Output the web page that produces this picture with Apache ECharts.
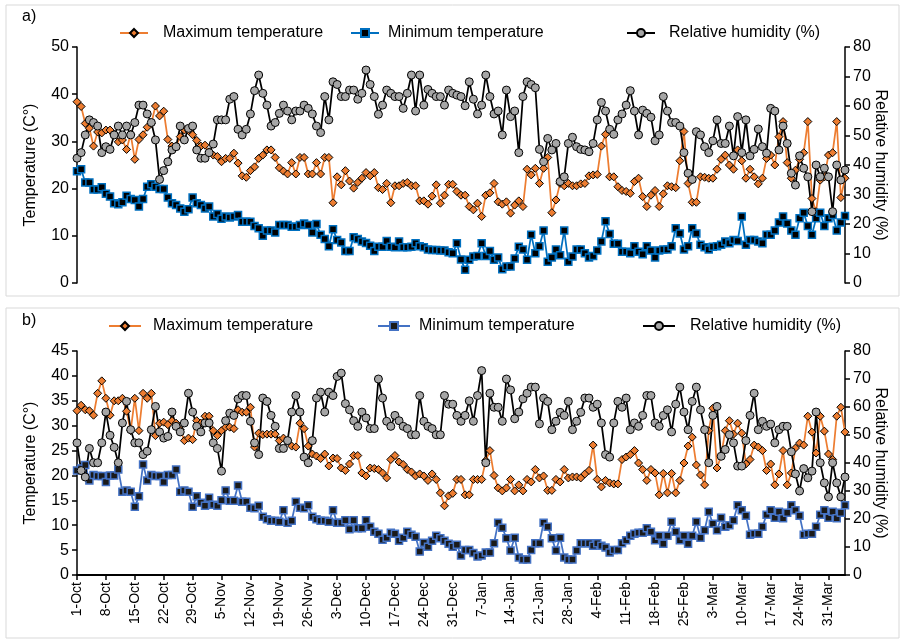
<!DOCTYPE html>
<html><head><meta charset="utf-8">
<script src="https://cdn.jsdelivr.net/npm/echarts@6/dist/echarts.min.js"></script>
<style>
html,body{margin:0;padding:0;background:#fff;}
#a{position:absolute;left:0;top:0;width:904px;height:302px;}
#b{position:absolute;left:0;top:302px;width:904px;height:339px;}
</style>
</head><body><div id="a"></div><div id="b"></div>
<script>
// Tick labels (one every 7 days, starting 1-Oct)
const tickLabels = ['1-Oct','8-Oct','15-Oct','22-Oct','29-Oct','5-Nov','12-Nov','19-Nov','26-Nov','3-Dec','10-Dec','17-Dec','24-Dec','31-Dec','7-Jan','14-Jan','21-Jan','28-Jan','4-Feb','11-Feb','18-Feb','25-Feb','3-Mar','10-Mar','17-Mar','24-Mar','31-Mar'];

// Panel a
const maxA = [38.4,37.4,33.8,32.8,29.0,32.0,31.8,32.4,32.4,31.5,29.9,30.3,28.3,31.5,26.2,30.4,31.4,33.0,33.8,37.5,35.4,36.4,30.4,29.0,29.0,31.0,32.4,32.3,31.4,30.2,29.0,29.2,27.8,27.1,26.8,25.7,26.4,26.4,27.5,25.4,22.7,22.4,23.8,24.6,26.4,27.1,28.2,
28.2,26.6,24.4,23.7,23.1,25.5,23.1,26.6,26.6,23.1,23.1,25.5,23.1,26.6,26.6,17.0,22.5,20.8,23.8,21.6,20.1,21.3,22.2,23.4,22.7,23.4,20.2,19.8,21.1,17.0,20.6,20.6,21.1,21.3,20.6,20.6,17.4,17.4,16.7,18.4,20.8,16.9,18.6,20.9,20.9,19.4,
18.6,18.6,16.2,15.5,16.9,14.1,18.6,19.1,21.1,17.2,16.7,17.2,14.8,16.5,17.4,16.2,24.1,22.9,24.3,21.1,24.3,26.6,14.9,17.6,21.1,20.6,21.1,20.6,20.6,21.0,21.1,22.7,22.9,23.0,29.0,31.5,22.5,22.5,20.4,19.6,19.4,19.0,21.5,22.2,
18.3,16.2,18.6,19.6,16.2,18.9,20.6,20.4,20.2,25.9,32.1,21.1,17.1,17.1,22.5,22.4,22.2,22.2,24.1,26.2,27.1,25.0,24.1,28.2,25.9,22.2,24.1,22.5,21.0,22.2,26.4,27.1,25.0,31.0,34.2,25.5,22.2,23.9,26.2,27.6,34.2,17.9,15.1,21.8,22.5,27.1,27.6,34.2,18.1,22.2];
const minA = [23.7,24.1,21.3,21.3,19.8,19.8,20.3,18.9,18.3,16.9,16.7,17.1,18.5,17.8,17.6,16.2,17.8,20.4,20.9,20.4,19.9,19.9,18.1,16.9,16.5,15.8,15.1,15.6,18.1,16.9,16.5,15.8,16.2,14.1,14.6,13.6,14.1,13.9,14.1,14.4,13.0,13.0,13.0,12.1,11.6,10.0,11.1,
11.1,10.7,12.3,12.3,12.3,11.9,11.9,12.3,12.6,12.3,10.7,12.5,10.2,9.3,7.8,11.4,9.1,8.6,6.8,6.8,9.7,9.3,8.8,8.5,7.9,6.8,7.7,7.7,8.9,7.7,7.6,8.8,7.6,7.6,7.7,8.4,7.8,7.6,7.1,7.0,7.0,6.9,6.9,6.5,6.3,8.4,
5.0,2.8,4.9,5.6,5.7,8.4,5.7,6.8,4.9,5.4,2.9,3.5,3.5,5.2,7.7,7.1,4.9,10.2,6.3,7.8,11.1,4.5,5.4,7.1,5.9,11.1,4.5,5.6,7.1,7.1,6.3,5.4,5.7,6.9,8.8,13.1,10.4,8.3,8.3,6.6,6.6,6.3,7.8,6.6,
6.1,7.8,6.9,5.4,6.9,7.1,7.1,7.8,11.6,10.5,7.1,7.8,11.6,10.5,8.1,7.6,7.1,7.7,7.8,8.1,8.8,8.4,9.1,8.9,14.1,8.1,9.1,9.1,8.8,8.4,10.2,10.2,11.1,12.8,14.1,12.6,11.1,10.2,13.7,14.9,12.1,10.2,13.7,14.9,12.1,13.7,14.4,11.1,12.8,14.2];
const rhA = [42.3,44.2,50.2,55.3,54.4,53.2,44.2,46.2,45.3,50.2,53.2,50.2,53.2,50.2,54.4,60.3,60.3,57.3,54.4,48.5,35.1,38.1,41.1,45.1,46.2,53.2,48.5,52.4,53.2,45.1,42.3,42.3,44.2,47.1,55.3,55.3,55.3,62.3,63.2,52.1,50.2,52.1,57.3,65.2,70.5,64.3,60.3,
53.2,54.4,57.5,60.3,58.3,55.3,58.3,58.3,60.3,59.2,57.3,53.2,51.0,63.2,55.3,68.2,67.3,63.2,63.2,65.4,65.4,62.3,64.3,72.2,67.3,63.2,57.2,60.3,65.4,64.3,63.2,63.2,59.2,64.3,70.5,58.3,70.5,60.3,65.6,64.3,63.2,63.2,60.3,65.4,64.3,63.7,
63.2,60.1,68.2,62.3,57.3,60.3,70.5,63.2,57.3,58.3,50.2,65.4,56.4,58.3,44.2,63.2,68.2,67.3,66.2,45.3,41.1,49.0,45.1,47.3,34.4,36.0,47.3,49.4,46.2,45.3,45.1,44.5,47.3,55.3,61.2,58.3,52.1,50.4,55.3,57.3,60.3,65.2,58.3,50.2,
58.6,57.5,56.2,48.2,50.2,63.2,58.3,54.4,54.4,53.2,44.2,37.2,35.1,51.3,50.2,46.2,44.2,48.2,55.3,47.3,47.3,53.2,43.1,56.4,44.2,55.3,43.1,45.3,52.2,46.2,44.0,59.2,58.3,45.1,53.2,47.3,37.2,33.2,43.1,38.9,36.0,24.2,40.0,36.0,38.9,36.0,24.2,40.0,34.9,38.3];

// Panel b
const maxB = [33.0,34.1,33.2,33.0,32.1,36.5,39.0,35.5,32.1,35.0,35.0,35.5,32.9,29.0,35.5,29.0,36.5,35.5,36.5,28.0,30.5,30.7,30.2,31.0,30.5,29.2,27.0,27.5,27.2,31.0,30.5,31.9,31.9,29.0,28.0,29.0,29.7,29.7,29.4,33.2,32.7,32.7,33.7,25.7,
28.5,28.2,28.3,28.3,28.3,27.0,27.5,27.0,25.9,25.7,30.5,29.4,25.9,24.3,23.9,23.4,24.3,21.9,23.5,23.4,21.5,21.0,22.3,24.0,24.0,20.5,19.9,21.5,21.4,21.2,20.5,19.5,23.2,24.0,22.7,22.2,21.2,20.7,19.9,20.3,19.9,19.0,20.3,19.2,16.5,13.9,15.9,
16.4,19.2,19.2,16.1,16.1,19.2,19.2,19.2,23.0,25.0,20.0,17.5,16.9,17.5,19.2,16.9,18.1,16.9,19.2,18.7,21.2,19.5,19.9,17.0,17.0,19.2,18.7,21.2,19.5,19.7,19.7,19.5,20.3,21.0,26.1,19.2,17.7,19.0,18.5,18.3,18.3,23.2,23.7,24.2,25.0,22.5,
21.2,19.0,21.2,20.5,16.1,20.4,16.5,20.4,16.5,19.0,22.5,25.9,27.7,22.1,20.1,18.1,29.0,33.5,21.5,23.9,29.0,31.0,28.3,30.5,28.5,22.3,23.2,26.1,25.7,25.0,21.0,22.3,18.1,20.3,25.0,18.1,20.5,25.5,26.5,26.1,31.9,28.7,24.5,31.9,28.9,24.3,23.2,31.9,33.7,28.7];
const minB = [21.0,21.4,22.1,19.0,20.1,19.9,19.9,18.7,20.0,20.0,21.2,16.7,17.0,16.7,13.7,15.8,22.2,19.0,20.1,19.9,19.9,18.7,20.1,20.1,21.2,16.7,17.0,16.7,13.7,15.8,14.5,13.9,15.5,14.1,13.9,15.0,17.0,14.9,14.9,18.0,14.7,14.7,13.5,13.4,
13.9,11.7,11.2,10.9,10.9,10.7,13.0,10.5,10.9,14.7,13.5,13.4,14.0,11.7,11.2,10.9,10.9,10.7,13.0,10.5,10.5,11.0,9.2,11.0,9.4,9.4,11.0,9.7,8.7,8.3,7.1,7.5,8.5,8.3,6.9,7.5,8.7,8.1,7.7,4.7,6.5,5.7,6.9,7.9,7.4,6.9,6.3,
5.7,6.1,3.9,5.0,5.0,4.4,3.7,3.9,4.5,4.5,6.4,10.5,9.5,7.4,4.9,7.5,3.5,3.1,3.1,5.0,6.4,6.4,10.5,9.7,7.4,4.9,7.5,3.5,3.1,3.1,4.9,6.4,6.4,6.4,5.9,6.4,5.9,5.5,4.5,5.0,5.0,6.4,7.0,7.9,8.3,8.5,
8.5,9.4,8.7,7.0,7.9,6.3,7.9,10.7,8.7,7.0,7.9,6.3,7.9,10.7,7.5,9.0,12.7,10.3,9.0,11.5,9.7,10.0,11.0,14.0,13.0,11.9,8.1,8.3,8.3,9.7,12.1,13.0,11.5,12.7,11.4,12.5,14.0,13.0,11.9,8.1,8.3,8.3,9.7,12.1,13.0,11.5,12.7,11.4,12.5,14.0];
const rhB = [47.2,37.3,35.0,45.2,40.1,40.1,47.2,58.2,49.9,45.6,40.1,54.3,62.0,51.9,47.2,47.2,43.0,44.2,51.9,60.2,51.1,48.9,49.5,58.2,53.1,51.1,54.3,64.9,58.2,53.1,51.1,54.3,54.3,47.2,45.2,37.1,55.1,57.8,57.0,62.9,64.1,64.1,54.9,47.2,
43.0,63.2,62.0,57.0,53.1,45.2,45.2,48.0,58.2,64.1,58.2,42.1,40.1,48.0,63.2,65.3,58.2,65.3,64.1,70.9,72.1,61.2,59.0,55.1,53.1,58.2,56.1,52.3,52.3,70.0,63.2,54.9,53.1,57.0,55.1,53.1,52.3,50.1,50.1,64.1,54.9,53.1,52.3,50.1,50.1,64.1,61.0,
61.0,57.0,54.9,57.0,62.2,54.9,64.1,73.0,40.1,64.9,59.9,59.9,54.9,70.0,66.1,55.8,58.2,62.9,64.9,67.1,67.1,54.0,63.2,62.0,51.9,54.9,58.1,57.0,62.0,51.9,54.9,58.1,63.2,63.2,59.9,61.0,54.3,43.0,42.1,54.3,62.0,59.9,63.2,51.9,54.3,53.1,
57.0,64.1,64.1,54.3,53.1,57.0,59.0,51.1,61.0,67.1,58.2,51.9,62.0,67.1,59.0,51.9,40.1,57.0,60.2,42.4,44.8,50.1,47.2,38.9,38.9,48.0,57.0,64.9,51.9,54.9,53.1,53.9,47.2,51.9,53.1,53.1,44.0,36.1,30.0,38.0,34.7,37.1,58.2,40.1,32.9,27.9,40.1,32.9,27.9,35.0];

const categories = maxA.map((_, i) => 'd' + i);
const FONT = "'Liberation Sans', Arial, sans-serif";
const NAMES = ['Maximum temperature', 'Minimum temperature', 'Relative humidity (%)'];

function makeSeries(maxD, minD, rhD, minColor, minFill) {
  const common = { type: 'line', showAllSymbol: true, animation: false, z: 2 };
  return [
    Object.assign({}, common, { name: NAMES[0], data: maxD, yAxisIndex: 0, symbol: 'diamond', symbolSize: 8,
      lineStyle: { color: '#ED7D31', width: 1.75 }, itemStyle: { color: '#ED7D31', borderColor: '#000', borderWidth: 1 } }),
    Object.assign({}, common, { name: NAMES[1], data: minD, yAxisIndex: 0, symbol: 'rect', symbolSize: 7,
      lineStyle: { color: minColor, width: 1.75 }, itemStyle: { color: minFill, borderColor: minColor, borderWidth: 1.5 } }),
    Object.assign({}, common, { name: NAMES[2], data: rhD, yAxisIndex: 1, symbol: 'circle', symbolSize: 8,
      lineStyle: { color: '#000', width: 1.75 }, itemStyle: { color: '#A6A6A6', borderColor: '#000', borderWidth: 1 } })
  ];
}

function makeLegends(pos, top, iw) {
  return NAMES.map((n, i) => ({
    data: [n], left: pos[i][0], top: top, itemWidth: iw, itemHeight: 10, selectedMode: false,
    textStyle: { fontFamily: FONT, fontSize: 16, color: '#000', padding: [0, 0, 0, pos[i][1]] }
  }));
}

function yAxes(lmax, linterval, lname, gridIdx) {
  const lbl = { fontFamily: FONT, fontSize: 16, color: '#000' };
  return [
    { type: 'value', gridIndex: gridIdx, min: 0, max: lmax, interval: linterval, position: 'left',
      name: lname, nameLocation: 'middle', nameGap: 38, nameTextStyle: { fontFamily: FONT, fontSize: 16, color: '#000' },
      axisLine: { show: true, lineStyle: { color: '#000', width: 1.5 } },
      axisTick: { show: true, length: 5, lineStyle: { color: '#000', width: 1.5 } },
      axisLabel: Object.assign({ margin: 8 }, lbl), splitLine: { show: false } },
    { type: 'value', gridIndex: gridIdx, min: 0, max: 80, interval: 10, position: 'right',
      name: 'Relative humidity (%)', nameLocation: 'middle', nameGap: 27, nameRotate: -90, nameMoveOverlap: false,
      nameTextStyle: { fontFamily: FONT, fontSize: 16, color: '#000' },
      axisLine: { show: true, lineStyle: { color: '#000', width: 1.5 } },
      axisTick: { show: true, length: 5, lineStyle: { color: '#000', width: 1.5 } },
      axisLabel: Object.assign({ margin: 8 }, lbl), splitLine: { show: false } }
  ];
}

// Panel a
const chartA = echarts.init(document.getElementById('a'), null, { renderer: 'canvas' });
chartA.setOption({
  backgroundColor: '#fff',
  animation: false,
  grid: { left: 77, top: 47, width: 768, height: 236 },
  graphic: [
    { type: 'rect', shape: { x: 6, y: 5, width: 893, height: 291 }, style: { fill: 'none', stroke: '#d9d9d9', lineWidth: 1 }, z: -1 },
    { type: 'text', left: 22, top: 9, style: { text: 'a)', font: '16px ' + FONT, fill: '#000' } }
  ],
  legend: makeLegends([[114, 10], [345, 4], [621, 9]], 20, 28),
  xAxis: { type: 'category', data: categories, boundaryGap: false,
    axisLine: { show: false }, axisTick: { show: false }, axisLabel: { show: false }, splitLine: { show: false } },
  yAxis: yAxes(50, 10, 'Temperature (C°)', 0),
  series: makeSeries(maxA, minA, rhA, '#0070C0', '#000')
});

// Panel b
const chartB = echarts.init(document.getElementById('b'), null, { renderer: 'canvas' });
chartB.setOption({
  backgroundColor: '#fff',
  animation: false,
  grid: { left: 77, top: 49, width: 768, height: 224 },
  graphic: [
    { type: 'rect', shape: { x: 6, y: 6, width: 893, height: 330 }, style: { fill: 'none', stroke: '#d9d9d9', lineWidth: 1 }, z: -1 },
    { type: 'text', left: 22, top: 11, style: { text: 'b)', font: '16px ' + FONT, fill: '#000' } }
  ],
  legend: makeLegends([[103, 7], [372, 4], [637, 10]], 11, 32),
  xAxis: { type: 'category', data: categories, boundaryGap: false,
    axisLine: { show: true, lineStyle: { color: '#000', width: 2 } },
    axisTick: { show: true, interval: 6, length: 5, lineStyle: { color: '#000', width: 1.5 } },
    axisLabel: { interval: 6, rotate: 90, margin: 7, fontFamily: FONT, fontSize: 14, color: '#000',
      formatter: (v, idx) => tickLabels[Math.round(idx / 7)] || '' },
    splitLine: { show: false } },
  yAxis: yAxes(45, 5, 'Temperature (C°)', 0),
  series: makeSeries(maxB, minB, rhB, '#4472C4', '#1a1a1a')
});
</script>
</body></html>
